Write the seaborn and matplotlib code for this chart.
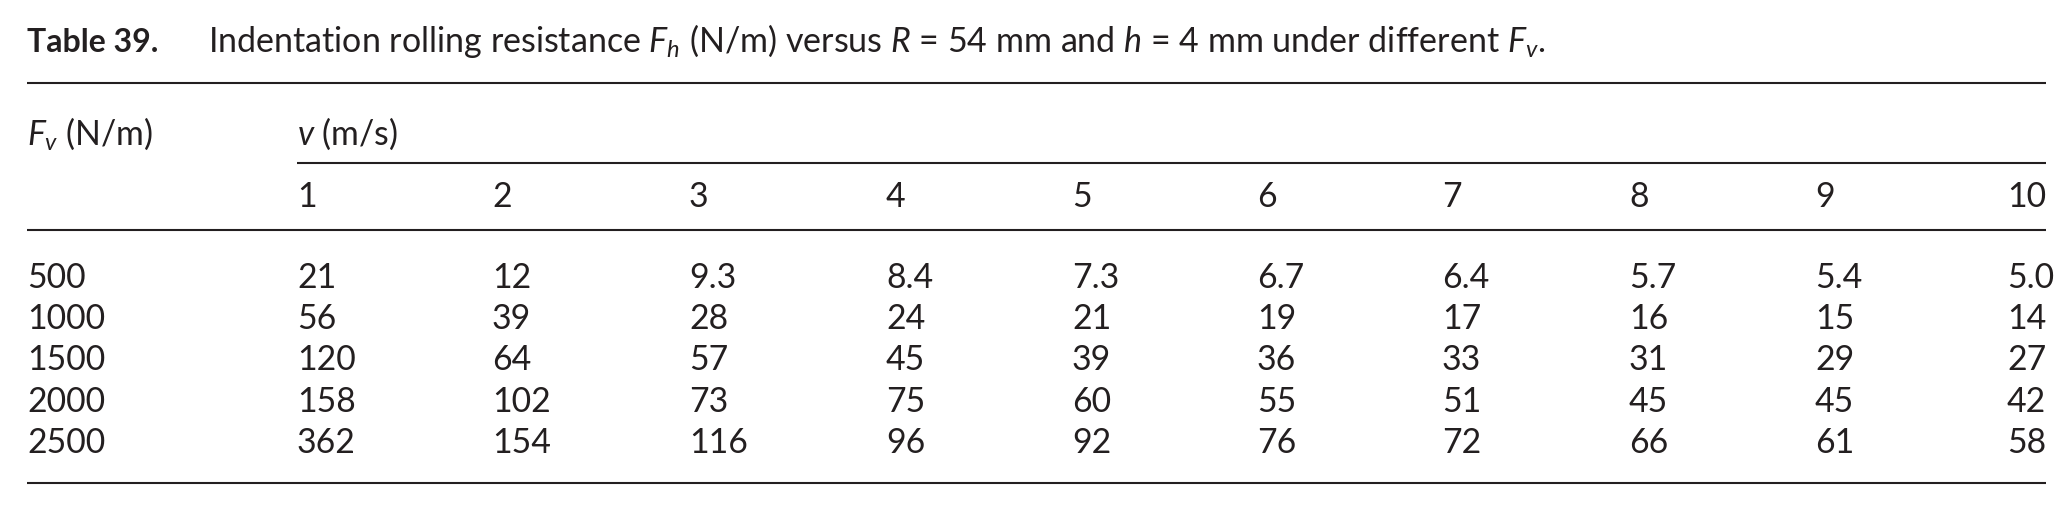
import matplotlib
matplotlib.use("Agg")
import matplotlib.pyplot as plt
import seaborn as sns

# ---------------- data ----------------
fv_values = [500, 1000, 1500, 2000, 2500]           # F_v (N/m)
v_values = [1, 2, 3, 4, 5, 6, 7, 8, 9, 10]          # v (m/s)
fh_500 = [21, 12, 9.3, 8.4, 7.3, 6.7, 6.4, 5.7, 5.4, 5.0]
fh_1000 = [56, 39, 28, 24, 21, 19, 17, 16, 15, 14]
fh_1500 = [120, 64, 57, 45, 39, 36, 33, 31, 29, 27]
fh_2000 = [158, 102, 73, 75, 60, 55, 51, 45, 45, 42]
fh_2500 = [362, 154, 116, 96, 92, 76, 72, 66, 61, 58]
rows = [fh_500, fh_1000, fh_1500, fh_2000, fh_2500]

title_bold = "Table 39."
title_text = (r"Indentation rolling resistance $F_h$ (N/m) versus $R$ = 54 mm "
              r"and $h$ = 4 mm under different $F_v$.")
row_header = r"$F_v$ (N/m)"
col_header = r"$v$ (m/s)"

# ---------------- layout ----------------
W, H = 2072, 512
x_left = 27
x_title = 208
col_x = [297, 492, 689, 886, 1072, 1257, 1442, 1629, 1815, 2007]
x_right = 2046
y_title = 52
y_rule_top = 83
y_head1 = 145
y_rule_mid = 163
y_head2 = 207
y_rule_head = 230
y_rows = [288, 329, 370.5, 412, 453]
y_rule_bottom = 483

ink = "#231f20"

sns.set_theme(style="white")
plt.rcParams["font.family"] = ["Lato", "DejaVu Sans"]
plt.rcParams["mathtext.fontset"] = "custom"
plt.rcParams["mathtext.rm"] = "Lato"
plt.rcParams["mathtext.it"] = "Lato:italic"
plt.rcParams["mathtext.bf"] = "Lato:bold"

fig = plt.figure(figsize=(W / 100, H / 100), dpi=100)
fig.patch.set_facecolor("white")
ax = fig.add_axes([0, 0, 1, 1])
ax.set_xlim(0, W)
ax.set_ylim(H, 0)
ax.set_axis_off()

fs_bold = 23
fs_title = 24.5
fs_body = 24.3

# title
ax.text(x_left, y_title, title_bold, fontsize=fs_bold, fontweight="bold",
        color=ink, ha="left", va="baseline")
ax.text(x_title, y_title, title_text, fontsize=fs_title, color=ink,
        ha="left", va="baseline")

# rules
lw = 1.5
ax.plot([x_left, x_right], [y_rule_top] * 2, color=ink, lw=lw, solid_capstyle="butt")
ax.plot([col_x[0], x_right], [y_rule_mid] * 2, color=ink, lw=lw, solid_capstyle="butt")
ax.plot([x_left, x_right], [y_rule_head] * 2, color=ink, lw=lw, solid_capstyle="butt")
ax.plot([x_left, x_right], [y_rule_bottom] * 2, color=ink, lw=lw, solid_capstyle="butt")

# headers
ax.text(x_left, y_head1, row_header, fontsize=fs_body, color=ink, ha="left", va="baseline")
ax.text(col_x[0], y_head1, col_header, fontsize=fs_body, color=ink, ha="left", va="baseline")
for xv, v in zip(col_x, v_values):
    ax.text(xv, y_head2, str(v), fontsize=fs_body, color=ink, ha="left", va="baseline")


def fmt(val):
    return f"{val:.1f}" if val < 10 else f"{val:.0f}"


for yr, fv, vals in zip(y_rows, fv_values, rows):
    ax.text(x_left, yr, str(fv), fontsize=fs_body, color=ink, ha="left", va="baseline")
    for xv, val in zip(col_x, vals):
        ax.text(xv, yr, fmt(val), fontsize=fs_body, color=ink, ha="left", va="baseline")

fig.savefig("out.png", dpi=100, facecolor="white")
